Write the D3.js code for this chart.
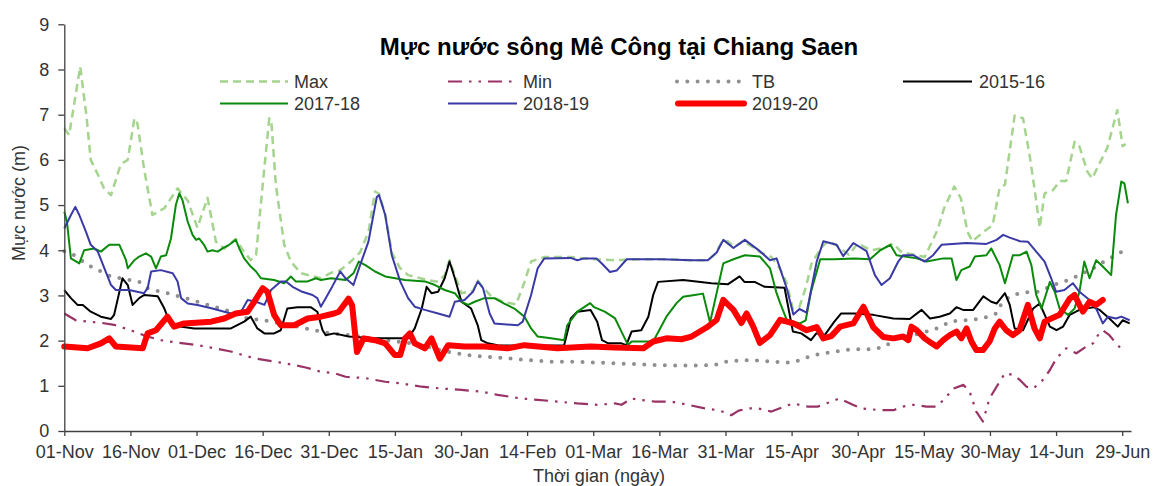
<!DOCTYPE html>
<html>
<head>
<meta charset="utf-8">
<script src="https://cdn.jsdelivr.net/npm/d3@7"></script>
<style>
  html, body { margin: 0; padding: 0; background: #ffffff; }
  svg { display: block; font-family: "Liberation Sans", Arial, sans-serif; }
</style>
</head>
<body>
<svg id="chart" width="1154" height="486"></svg>
<script>
// ---------------- DATA (day index from 01-Nov, water level in m) ----------------
const tickLabels = ["01-Nov","16-Nov","01-Dec","16-Dec","31-Dec","15-Jan","30-Jan","14-Feb","01-Mar","16-Mar","31-Mar","15-Apr","30-Apr","15-May","30-May","14-Jun","29-Jun"];
const yTicks = [0,1,2,3,4,5,6,7,8,9];

const seriesMax = [[0,6.7],[1.1,6.55],[3.6,8.06],[5,7.0],[6,6.0],[7.5,5.7],[9,5.37],[10.6,5.22],[12.8,5.9],[14.4,6.0],[15.9,6.92],[16.6,6.8],[18.1,5.8],[20,4.78],[22.7,4.93],[25.7,5.37],[28,5.1],[30.2,4.5],[32.5,5.16],[34.4,4.19],[36.3,4.04],[38.9,4.25],[40.5,4.0],[42.3,3.78],[43.5,3.89],[45,5.44],[46.5,6.92],[47,6.8],[48,5.44],[49.9,4.12],[51.4,3.75],[53.7,3.49],[58.2,3.38],[60.5,3.5],[62.5,3.55],[65,3.75],[67.1,3.95],[69,4.4],[70.5,5.3],[71.4,5.25],[72.8,4.8],[74.3,3.95],[76.2,3.6],[78,3.45],[82,3.35],[84.8,3.3],[86.3,3.45],[87.4,3.78],[88.6,3.45],[90.1,3.05],[92.7,3.1],[93.8,3.33],[95,3.18],[97,2.96],[100,2.85],[102.5,2.8],[104.4,3.3],[105.9,3.75],[108.9,3.85],[115,3.85],[120,3.8],[125,3.78],[130,3.8],[136,3.8],[142,3.78],[146,3.78],[147.5,3.9],[149.4,4.22],[150.5,4.2],[152,4.07],[154,4.2],[156.2,4.07],[158,3.95],[160.4,3.85],[162.3,3.6],[163.8,3.3],[165.3,2.7],[166.8,2.75],[168.3,3.2],[169.5,3.7],[171.7,4.05],[173.2,4.2],[175,4.12],[178,3.9],[180,4.15],[183,4.0],[186,4.05],[188,4.15],[190,3.95],[193,3.9],[195.2,3.85],[198.1,4.45],[199.6,4.93],[201.9,5.41],[203.4,5.15],[204.9,4.41],[206,4.2],[209.1,4.45],[210.6,4.55],[212.2,5.38],[213.4,5.45],[215.6,6.98],[217.5,6.92],[219,6.1],[220.2,5.3],[221.3,4.5],[222.4,5.26],[224.3,5.33],[225.8,5.53],[227.3,5.53],[229.2,6.4],[230.3,6.3],[232.1,5.74],[233.2,5.59],[234.7,5.89],[236.6,6.26],[238.9,7.1],[240.1,6.3],[240.8,6.35]];

const seriesMin = [[0,2.6],[2.6,2.45],[5.3,2.42],[8,2.4],[11.3,2.35],[13.5,2.28],[15.9,2.2],[18.5,2.1],[21.9,2.01],[26,1.95],[30.2,1.9],[34,1.83],[37.8,1.76],[40.5,1.68],[43.1,1.61],[47.5,1.54],[52.2,1.46],[55,1.4],[58.2,1.31],[61.2,1.28],[63.8,1.2],[68.3,1.17],[72.8,1.09],[76.6,1.05],[81.1,0.98],[85.6,0.94],[90.1,0.91],[94.6,0.87],[98.3,0.8],[103.6,0.72],[107.4,0.69],[111.9,0.65],[116.4,0.61],[120.9,0.58],[124.9,0.61],[126.4,0.58],[128.7,0.72],[129.8,0.7],[134,0.65],[137.7,0.65],[141.5,0.58],[145.3,0.5],[148.3,0.46],[150.6,0.39],[151.3,0.35],[153,0.45],[155.1,0.5],[157.4,0.5],[160.4,0.43],[163.4,0.54],[165.3,0.61],[168.7,0.54],[170.9,0.54],[174,0.65],[175.8,0.72],[178.9,0.58],[180.8,0.5],[185.1,0.46],[188.1,0.46],[190.3,0.54],[192.6,0.58],[195.6,0.54],[197.9,0.54],[199.8,0.72],[201.7,0.94],[204,1.02],[205.4,0.87],[206.9,0.43],[208.4,0.21],[209.9,0.72],[211.5,0.98],[213.4,1.28],[215.2,1.24],[216.8,1.13],[218.3,0.98],[219.8,0.94],[222,1.13],[223.6,1.35],[225.1,1.61],[227.3,1.83],[229.6,1.72],[231.9,1.87],[233.4,1.94],[234.5,2.12],[235.6,2.23],[237.1,2.12],[238.6,1.94],[240.1,1.79]];

const seriesTB = [[0,3.98],[2.3,3.89],[3.8,3.78],[6,3.64],[8.3,3.53],[10.6,3.42],[12.8,3.38],[17,3.3],[18.9,3.16],[21.2,3.1],[23.4,3.05],[27.2,2.95],[30.2,2.86],[34,2.75],[37.8,2.64],[41.6,2.49],[45.4,2.45],[49.1,2.38],[52.9,2.31],[56.7,2.23],[60.5,2.16],[65,2.12],[72,2.02],[78,1.95],[83,1.85],[87.1,1.75],[91.6,1.68],[96,1.64],[100.6,1.61],[105,1.57],[111,1.53],[117,1.53],[122,1.51],[129.4,1.48],[134,1.46],[138.5,1.45],[143,1.45],[147.5,1.46],[149.8,1.53],[154.3,1.57],[158.9,1.55],[163.4,1.51],[165.7,1.53],[167.9,1.61],[170.2,1.68],[172.5,1.72],[174.7,1.75],[177,1.79],[179.2,1.81],[183.5,1.81],[186.2,1.87],[188.8,2.05],[192.5,2.12],[196.8,2.23],[199,2.31],[200.9,2.42],[203.2,2.45],[205.4,2.45],[207.7,2.49],[209.6,2.53],[211.5,2.6],[212.6,2.82],[214.5,2.98],[216.8,3.05],[219,3.08],[221.3,3.08],[224.3,3.23],[226.6,3.3],[228.8,3.38],[231.1,3.49],[233.4,3.6],[236.4,3.78],[238.6,3.89],[240.5,4.0],[241.5,4.02]];

const series1516 = [[0,3.12],[1.5,2.94],[3,2.79],[4.2,2.79],[6,2.64],[8.3,2.53],[10.6,2.48],[11.3,2.57],[13.2,3.38],[14.4,3.23],[15.5,2.79],[17,2.94],[18.1,3.01],[21.2,2.98],[22.7,2.71],[24.2,2.34],[29.5,2.27],[34.8,2.27],[37.8,2.27],[40.8,2.42],[42.3,2.53],[43.8,2.27],[45.4,2.16],[47.6,2.16],[49.1,2.23],[50.6,2.71],[52.9,2.74],[55.9,2.74],[57.4,2.64],[58.6,2.23],[59.3,2.12],[61.2,2.16],[64.5,2.09],[70,2.05],[78,2.05],[79.5,2.27],[81.1,2.71],[82.2,3.19],[83.3,3.05],[84.8,3.08],[86.3,3.38],[87.4,3.75],[88.6,3.38],[90.1,2.86],[92.3,2.71],[93.8,2.34],[94.6,2.01],[96.1,1.94],[98.3,1.9],[105,1.88],[113.4,1.9],[114.9,2.49],[116.4,2.64],[119.4,2.68],[120.9,2.42],[122,2.01],[123.4,1.94],[126.4,1.94],[127.5,1.9],[128.7,2.2],[130.9,2.23],[132.5,2.53],[133.6,3.01],[134.7,3.3],[140.4,3.34],[146.8,3.27],[150.6,3.25],[153.2,3.42],[154.3,3.3],[156.6,3.3],[158.9,3.19],[163.4,3.17],[165.3,2.2],[167.2,2.16],[169.4,2.01],[170.6,2.16],[172.5,2.12],[174.7,2.42],[176.2,2.6],[179.2,2.6],[183.5,2.57],[188.1,2.49],[191.8,2.48],[194.5,2.68],[196.4,2.49],[198.6,2.53],[200.9,2.6],[202.4,2.74],[203.9,2.68],[206.2,2.68],[208.5,2.98],[210.3,2.86],[211.5,2.82],[213.4,3.05],[214.5,2.79],[215.6,2.27],[217.5,2.23],[219.8,2.71],[221.3,2.82],[223.6,2.31],[225.1,2.23],[226.6,2.31],[228.1,2.57],[230.3,2.68],[233.4,2.74],[234.9,2.68],[237.1,2.49],[239,2.31],[240.1,2.45],[241.7,2.38]];

const series1718 = [[0,4.85],[0.6,4.63],[1.5,3.82],[3.4,3.71],[4.5,4.0],[6.8,4.04],[8.3,3.97],[10.2,4.12],[12.5,4.12],[14,3.78],[14.4,3.6],[15.9,3.78],[17,3.86],[18.5,3.93],[19.7,3.86],[20.8,3.6],[21.9,3.86],[23.1,3.89],[24.2,4.26],[25.3,5.0],[26.1,5.26],[26.8,5.11],[28,4.63],[29.1,4.34],[29.9,4.23],[30.6,4.26],[31.7,4.12],[32.5,3.97],[33.6,4.0],[34.8,3.97],[35.9,4.04],[37.4,4.12],[38.9,4.23],[39.7,4.04],[40.8,3.82],[42.3,3.64],[43.5,3.53],[44.6,3.38],[47.6,3.34],[49.9,3.27],[51.4,3.42],[52.5,3.31],[55.2,3.31],[57.1,3.38],[58.2,3.34],[60.5,3.38],[63.8,3.34],[65.6,3.49],[66.8,3.75],[68.3,3.67],[70.5,3.53],[72.8,3.42],[77.3,3.34],[81.8,3.31],[84.1,3.23],[86.3,3.12],[88.6,3.05],[90.1,2.86],[91.6,2.79],[93.1,2.86],[95.3,2.94],[97.6,2.94],[99.8,2.82],[102.1,2.71],[104.4,2.53],[105.9,2.27],[107.4,2.09],[110.4,2.05],[113.4,2.01],[114.1,2.34],[116.4,2.64],[119.3,2.83],[120.2,2.74],[122.6,2.64],[124.9,2.5],[126.4,2.2],[127.9,1.9],[128.7,1.98],[130.9,1.98],[133.6,1.98],[136.6,2.53],[138.9,2.83],[140.4,2.97],[143,3.01],[144.9,3.04],[146.5,2.4],[149.5,3.71],[151.8,3.8],[154.4,3.89],[157.8,3.86],[160.1,3.6],[161.5,3.08],[162.4,2.83],[163.9,2.46],[166.9,2.38],[168.2,2.45],[169.4,3.08],[171.5,3.8],[174.7,3.8],[179.2,3.82],[182.8,3.8],[185.1,4.0],[187.4,4.12],[188.8,3.89],[193.4,3.82],[195.6,3.75],[199.4,3.82],[201.3,3.82],[202.4,3.34],[203.5,3.56],[205.4,3.64],[206.6,3.86],[209.2,3.89],[210.3,4.04],[212.2,3.67],[213.4,3.27],[215.2,3.89],[216.8,3.89],[218.3,3.97],[219.4,3.67],[220.5,3.01],[221.7,2.71],[223.6,3.3],[224.7,3.08],[225.8,2.71],[227.7,2.57],[229.2,2.71],[230.3,3.08],[231.4,3.75],[232.6,3.38],[234.1,3.78],[235.6,3.64],[237.5,3.45],[238.6,4.78],[239.8,5.52],[240.5,5.48],[241.3,5.04]];

const series1819 = [[0,4.48],[1.5,4.78],[2.5,4.96],[3.4,4.78],[4.9,4.41],[6,4.12],[7.6,3.97],[9.1,3.6],[10.6,3.23],[11.7,3.12],[14.7,3.12],[18.1,3.05],[18.9,3.16],[19.7,3.53],[21.9,3.56],[24.6,3.49],[25.7,3.31],[26.5,2.94],[28,2.82],[30.2,2.79],[33.6,2.71],[36.3,2.64],[37.8,2.6],[40.1,2.64],[41.6,2.9],[43.5,2.86],[45.4,2.79],[46.9,3.12],[49.1,3.31],[50.3,3.31],[51.8,3.19],[54,3.08],[56.3,3.01],[57.4,2.94],[58.2,2.75],[59.3,2.94],[60.8,3.2],[62.6,3.53],[63.8,3.38],[65.6,3.23],[67.1,3.67],[69,4.19],[70.9,5.18],[71.4,5.22],[72.8,4.78],[74.3,3.89],[76.2,3.31],[78,2.94],[79.5,2.75],[81.8,2.68],[84.8,2.6],[87.4,2.53],[88.6,2.86],[90.8,2.9],[92.7,3.08],[93.8,3.31],[95,3.16],[96.5,2.6],[97.6,2.38],[102.9,2.34],[104,2.42],[105.9,3.01],[107.4,3.6],[108.9,3.82],[114.9,3.83],[116.4,3.78],[117.9,3.82],[120.7,3.82],[122,3.7],[123.8,3.52],[125.3,3.55],[127.6,3.8],[135.5,3.8],[142.3,3.78],[146,3.78],[148,3.95],[149.5,4.23],[151.8,4.05],[154.4,4.23],[157.8,3.98],[160.1,3.78],[161.6,3.82],[163.9,3.16],[165.4,2.58],[166.8,2.7],[168.4,2.62],[170.7,3.75],[172.2,4.2],[175.2,4.12],[176.7,3.87],[179,4.16],[182,3.98],[183.9,3.45],[185.4,3.23],[187.3,3.38],[189.2,3.75],[190.3,3.89],[192.6,3.89],[195.2,3.75],[197.1,3.89],[199,4.12],[204.7,4.16],[209.2,4.14],[211.5,4.23],[213,4.34],[214.5,4.28],[216.8,4.2],[218.6,4.19],[220.5,3.97],[222.4,3.75],[223.9,3.38],[225,3.08],[226.9,3.12],[228.8,3.27],[230.3,3.08],[232.6,2.9],[234.1,2.71],[235.6,2.38],[236.8,2.53],[238.6,2.49],[239.8,2.53],[241.7,2.45]];

const series1920 = [[0,1.87],[5.3,1.83],[8.3,1.94],[10.2,2.05],[11.7,1.87],[17.8,1.83],[18.9,2.16],[20.8,2.23],[23.4,2.53],[24.9,2.31],[27.2,2.38],[33.3,2.42],[36.3,2.49],[38.9,2.6],[41.6,2.64],[43.1,2.86],[45,3.16],[46.1,3.08],[47.6,2.57],[49.1,2.34],[52.2,2.34],[55.2,2.49],[58.2,2.53],[61.2,2.6],[62.3,2.64],[64.5,2.93],[65.3,2.78],[66.4,1.75],[67.9,2.05],[70.5,2.01],[72.8,1.94],[75,1.68],[76.2,1.68],[77.3,2.05],[78.4,2.16],[79.5,1.94],[81.8,1.83],[83.3,2.05],[85.2,1.6],[87.1,1.9],[90.8,1.87],[95.3,1.87],[100.6,1.83],[104.4,1.9],[111.9,1.83],[119.4,1.87],[124.9,1.85],[131.4,1.83],[133.6,1.98],[136.6,2.05],[140,2.03],[142.3,2.09],[145.7,2.29],[148,2.46],[149.5,2.9],[151.8,2.68],[153.6,2.39],[154.8,2.6],[156.3,2.31],[157.8,1.95],[160.1,2.12],[162.4,2.46],[165.4,2.38],[168.4,2.23],[170.7,2.3],[172.2,2.05],[174,2.1],[176,2.31],[179,2.38],[181.3,2.75],[183.5,2.3],[185.8,2.08],[188.1,2.05],[190.3,2.09],[191.5,2.01],[192.2,2.31],[193.4,2.23],[195.2,2.05],[196.8,1.94],[197.9,1.87],[199.4,2.01],[200.9,2.12],[202.4,2.2],[203.5,2.05],[204.7,2.27],[205.8,1.98],[206.9,1.79],[208.4,1.79],[209.9,1.98],[211.1,2.27],[212.2,2.42],[213.7,2.23],[215.2,2.12],[216.7,2.23],[218.6,2.79],[220.1,2.27],[221.3,2.05],[222.4,2.42],[223.9,2.49],[225.8,2.57],[228.1,2.93],[229.2,3.01],[230.3,2.79],[231.1,2.64],[232.6,2.86],[234.1,2.79],[235.6,2.9]];

const seriesNames = ["Max","Min","TB","2015-16","2017-18","2018-19","2019-20"];

// ---------------- CHART ----------------
const svg = d3.select("#chart");
const x = d3.scaleLinear().domain([0, 242]).range([64.3, 1131]);
const y = d3.scaleLinear().domain([0, 9]).range([431, 24.3]);

const styles = {
  "Max":     {color:"#a4d48e", width:2.5, dash:"8,5", cap:"butt"},
  "Min":     {color:"#993366", width:2.2, dash:"14,7,2.5,7,2.5,7", cap:"butt"},
  "TB":      {color:"#8f8f8f", width:4,   dash:"0,10.3", cap:"round"},
  "2015-16": {color:"#000000", width:2,   dash:null, cap:"butt"},
  "2017-18": {color:"#0a8a0a", width:2,   dash:null, cap:"butt"},
  "2018-19": {color:"#3a3aa6", width:2,   dash:null, cap:"butt"},
  "2019-20": {color:"#ff0000", width:6,   dash:null, cap:"round"}
};
const dataByName = {
  "Max": seriesMax, "Min": seriesMin, "TB": seriesTB,
  "2015-16": series1516, "2017-18": series1718, "2018-19": series1819, "2019-20": series1920
};

const line = d3.line().x(d => x(d[0])).y(d => y(d[1])).curve(d3.curveLinear);

const gLines = svg.append("g");
seriesNames.forEach(n => {
  const s = styles[n];
  gLines.append("path")
    .datum(dataByName[n])
    .attr("d", line)
    .attr("fill", "none")
    .attr("stroke", s.color)
    .attr("stroke-width", s.width)
    .attr("stroke-dasharray", s.dash)
    .attr("stroke-linecap", s.cap)
    .attr("stroke-linejoin", "round");
});

// Axes
const axisColor = "#404040";
const xAxis = d3.axisBottom(x)
  .tickValues(tickLabels.map((t, i) => i * 15))
  .tickFormat((d, i) => tickLabels[i])
  .tickSize(5).tickSizeOuter(0).tickPadding(9);
const gx = svg.append("g").attr("transform", "translate(0,431)").call(xAxis);
gx.select(".domain").attr("stroke", axisColor).attr("stroke-width", 1.3);
gx.selectAll(".tick line").attr("stroke", axisColor).attr("stroke-width", 1.3);
gx.selectAll(".tick text").attr("fill", "#333").style("font-size", "18px")
  .style("font-family", "'Liberation Sans', Arial, sans-serif");

const yAxis = d3.axisLeft(y).tickValues(yTicks).tickFormat(d3.format("d"))
  .tickSize(6).tickSizeOuter(0).tickPadding(9);
const gy = svg.append("g").attr("transform", "translate(64.3,0)").call(yAxis);
gy.select(".domain").attr("stroke", axisColor).attr("stroke-width", 1.3);
gy.selectAll(".tick line").attr("stroke", axisColor).attr("stroke-width", 1.3);
gy.selectAll(".tick text").attr("fill", "#333").style("font-size", "18px")
  .style("font-family", "'Liberation Sans', Arial, sans-serif");

// Axis titles
svg.append("text")
  .attr("x", 599).attr("y", 482)
  .attr("text-anchor", "middle")
  .attr("fill", "#333").style("font-size", "18px")
  .text("Thời gian (ngày)");
svg.append("text")
  .attr("transform", "translate(25,203) rotate(-90)")
  .attr("text-anchor", "middle")
  .attr("fill", "#333").style("font-size", "18px")
  .text("Mực nước (m)");

// Title
svg.append("text")
  .attr("x", 619).attr("y", 55)
  .attr("text-anchor", "middle")
  .attr("fill", "#000").style("font-size", "24px").style("font-weight", "bold")
  .text("Mực nước sông Mê Công tại Chiang Saen");

// Legend
const legendItems = [
  {name:"Max",     x1:220, x2:288, tx:294, cy:81.5},
  {name:"Min",     x1:448, x2:517, tx:523, cy:81.5},
  {name:"TB",      x1:677, x2:740, tx:752, cy:81.5},
  {name:"2015-16", x1:903, x2:972, tx:979, cy:81.5},
  {name:"2017-18", x1:220, x2:288, tx:294, cy:103.5},
  {name:"2018-19", x1:448, x2:517, tx:523, cy:103.5},
  {name:"2019-20", x1:678, x2:744, tx:752, cy:103.5}
];
const gLeg = svg.append("g");
legendItems.forEach(it => {
  const s = styles[it.name];
  gLeg.append("line")
    .attr("x1", it.x1).attr("x2", it.x2).attr("y1", it.cy).attr("y2", it.cy)
    .attr("stroke", s.color).attr("stroke-width", s.width)
    .attr("stroke-dasharray", s.dash).attr("stroke-linecap", s.cap);
  gLeg.append("text")
    .attr("x", it.tx).attr("y", it.cy + 6.5)
    .attr("fill", "#333").style("font-size", "18px")
    .text(it.name);
});
</script>
</body>
</html>
